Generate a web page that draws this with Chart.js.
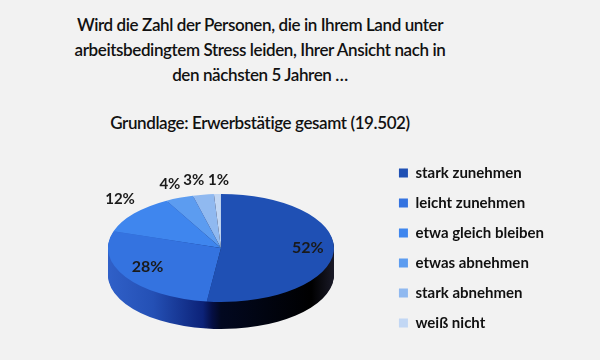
<!DOCTYPE html>
<html lang="de">
<head>
    <meta charset="UTF-8">
    <title>Arbeitsbedingter Stress | Erwartung</title>
    <script src="https://cdn.jsdelivr.net/npm/chart.js"></script>
    <style>
        body { margin: 0; width: 600px; height: 360px; background: #f2f2f2; position: relative; overflow: hidden; }
        .heading { position: absolute; left: 0; width: 520px; text-align: center; font-family: Lato, sans-serif; font-size: 17px; font-weight: 600; line-height: 25px; color: #111; letter-spacing: -0.4px; }
        #title { top: 12px; }
        #subtitle { top: 110px; }
        #chart-wrap { position: absolute; left: 0; top: 122px; width: 600px; height: 240px; }
    </style>
</head>
<body>
    <div id="title" class="heading">Wird die Zahl der Personen, die in Ihrem Land unter<br>arbeitsbedingtem Stress leiden, Ihrer Ansicht nach in<br>den nächsten 5 Jahren …</div>
    <div id="subtitle" class="heading">Grundlage: Erwerbstätige gesamt (19.502)</div>
    <div id="chart-wrap">
        <canvas id="myChart" width="600" height="240"></canvas>
    </div>

    <script>
        // Data
        const categories = ['stark zunehmen', 'leicht zunehmen', 'etwa gleich bleiben', 'etwas abnehmen', 'stark abnehmen', 'weiß nicht'];
        const shares = [52, 28, 12, 4, 3, 1];
        const sliceColors = ['#1f50b4', '#3473e0', '#3f86ee', '#5c9cf0', '#90b9f0', '#c2d7f4'];

        const TILT = 0.478;  // vertical squash of the pie top
        const DEPTH = 27;    // thickness of the pie side

        function squash(ctx, cx, cy, dy) {
            ctx.translate(cx, cy + dy);
            ctx.scale(1, TILT);
            ctx.translate(-cx, -cy);
        }

        // Fake 3D: draw the arcs stacked in a dark shade, then the top squashed
        const pie3d = {
            id: 'pie3d',
            beforeDatasetsDraw(chart) {
                const ctx = chart.ctx;
                const arcs = chart.getDatasetMeta(0).data;
                const { x: cx, y: cy, outerRadius: r } = arcs[0];

                const side = ctx.createLinearGradient(cx - r, 0, cx + r, 0);
                side.addColorStop(0, '#3060c8');
                side.addColorStop(0.2, '#2450b5');
                side.addColorStop(0.42, '#0c2278');
                side.addColorStop(0.46, '#050f45');
                side.addColorStop(0.5, '#020820');
                side.addColorStop(0.9, '#000000');
                side.addColorStop(1, '#1a1a28');

                for (let d = DEPTH; d > 0; d--) {
                    ctx.save();
                    squash(ctx, cx, cy, d);
                    arcs.forEach(arc => {
                        const shadow = Object.create(arc);
                        shadow.options = Object.assign({}, arc.options, { backgroundColor: side });
                        arc.draw.call(shadow, ctx);
                    });
                    ctx.restore();
                }
                ctx.save();
                squash(ctx, cx, cy, 0);
            },
            afterDatasetsDraw(chart) {
                const ctx = chart.ctx;
                ctx.restore();

                // percentage labels
                const arcs = chart.getDatasetMeta(0).data;
                ctx.save();
                ctx.fillStyle = '#1a1a1a';
                ctx.textBaseline = 'middle';
                arcs.forEach((arc, i) => {
                    const mid = (arc.startAngle + arc.endAngle) / 2;
                    const text = shares[i] + '%';
                    const cos = Math.cos(mid), sin = Math.sin(mid);
                    if (shares[i] >= 20) {
                        ctx.font = 'bold 16px Lato';
                        ctx.textAlign = 'center';
                        const f = 0.77;
                        ctx.fillText(text, arc.x + cos * arc.outerRadius * f,
                            arc.y + sin * arc.outerRadius * f * TILT - 3);
                    } else {
                        ctx.font = 'bold 15px Lato';
                        ctx.textAlign = cos < -0.1 ? 'right' : 'center';
                        const px = arc.x + cos * arc.outerRadius;
                        const py = arc.y + sin * arc.outerRadius * TILT;
                        ctx.fillText(text, px + 1, py - 14);
                    }
                });
                ctx.restore();
            }
        };

        const ctx = document.getElementById('myChart').getContext('2d');
        window.myChart = new Chart(ctx, {
            type: 'pie',
            data: {
                labels: categories,
                datasets: [{
                    data: shares,
                    backgroundColor: sliceColors,
                    borderWidth: 0
                }]
            },
            options: {
                responsive: false,
                animation: false,
                layout: {
                    padding: { left: 58, right: 46, top: 13, bottom: 1 }
                },
                plugins: {
                    legend: {
                        position: 'right',
                        labels: {
                            boxWidth: 9,
                            boxHeight: 9,
                            padding: 15,
                            color: '#111',
                            font: { family: 'Lato', size: 15, weight: 'bold' }
                        }
                    },
                    tooltip: { enabled: false }
                }
            },
            plugins: [pie3d]
        });
    </script>
</body>
</html>
